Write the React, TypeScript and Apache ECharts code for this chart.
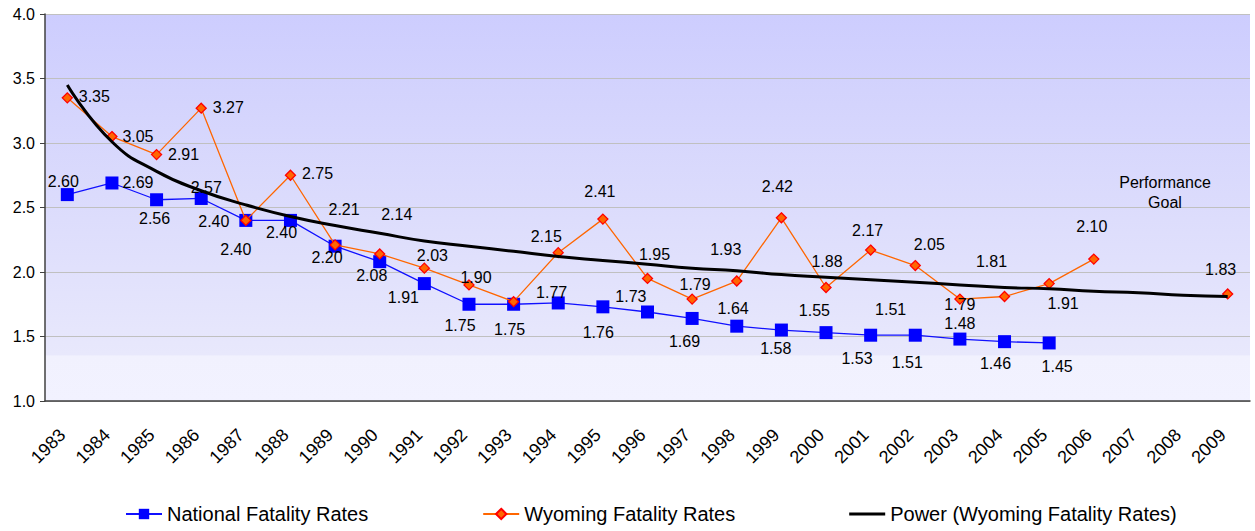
import React, { useEffect, useRef } from "react";
import * as echarts from "echarts";

const years = [
  "1983", "1984", "1985", "1986", "1987", "1988", "1989", "1990", "1991",
  "1992", "1993", "1994", "1995", "1996", "1997", "1998", "1999", "2000",
  "2001", "2002", "2003", "2004", "2005", "2006", "2007", "2008", "2009",
];

const nationalRates: (number | null)[] = [
  2.6, 2.69, 2.56, 2.57, 2.4, 2.4, 2.2, 2.08, 1.91, 1.75, 1.75, 1.76, 1.73,
  1.69, 1.64, 1.58, 1.55, 1.53, 1.51, 1.51, 1.48, 1.46, 1.45, null, null, null, null,
];

const wyomingRates: (number | null)[] = [
  3.35, 3.05, 2.91, 3.27, 2.4, 2.75, 2.21, 2.14, 2.03, 1.9, 1.77, 2.15, 2.41,
  1.95, 1.79, 1.93, 2.42, 1.88, 2.17, 2.05, 1.79, 1.81, 1.91, 2.1, null, null, 1.83,
];

// Power trend line of the Wyoming rates at each year
const powerTrend: number[] = [
  3.45, 3.01, 2.78, 2.63, 2.52, 2.43, 2.36, 2.3, 2.24, 2.2, 2.16, 2.12, 2.09,
  2.06, 2.03, 2.01, 1.98, 1.96, 1.94, 1.92, 1.9, 1.88, 1.87, 1.85, 1.84, 1.82, 1.81,
];

const goalText = "Performance\nGoal";

// label placement (pixel offsets from each marker), kept apart from the data
const natLabelOffsets: number[][] = [
  [-4, -13], [26, 0], [-2, 19], [5, -11], [-32, 1], [-9, 12], [-8, 11], [-8, 14],
  [-21, 14], [-9, 21], [-4, 25], [40, 30], [28, -10], [37, 30], [41, -10], [39, 22],
  [33, -20], [31, 26], [20, -26], [-8, 27], [0, -16], [-9, 22], [8, 24],
];
const wyLabelOffsets: (number[] | null)[] = [
  [27, -1], [26, 0], [27, 0], [27, -1], [-10, 29], [27, -2], [9, -35], [17, -39],
  [8, -13], [7, -7], [38, -9], [-12, -16], [-3, -28], [7, -24], [3, -15], [-11, -32],
  [-4, -31], [1, -26], [-3, -20], [14, -21], [0, 5], [-13, -35], [14, 20], [-2, -33],
  null, null, [-7, -24],
];

const FONT = "'Liberation Sans', Arial, sans-serif";

function withLabels(values: (number | null)[], offsets: (number[] | null)[]) {
  return values.map((v, i) =>
    v == null
      ? "-"
      : { value: v, label: { offset: offsets[i] || [0, 0] } }
  );
}

export default function App() {
  const ref = useRef<HTMLDivElement>(null);

  useEffect(() => {
    document.body.style.margin = "0";
    if (!ref.current) return;
    const chart = echarts.init(ref.current, null, { renderer: "svg" });

    const labelBase = {
      show: true,
      position: "inside",
      color: "#000",
      fontSize: 16,
      fontFamily: FONT,
      formatter: (p: any) => Number(p.value).toFixed(2),
    };

    chart.setOption({
      animation: false,
      textStyle: { fontFamily: FONT },
      grid: {
        left: 45,
        right: 5,
        top: 14,
        bottom: 130,
        show: true,
        borderWidth: 0,
        backgroundColor: new echarts.graphic.LinearGradient(0, 0, 0, 1, [
          { offset: 0, color: "#CDCDFE" },
          { offset: 0.5, color: "#DCDCFC" },
          { offset: 0.88, color: "#E8E8FC" },
          { offset: 0.884, color: "#F1F1FE" },
          { offset: 1, color: "#F2F2FF" },
        ]),
      },
      legend: {
        left: 120,
        top: 499,
        itemWidth: 36,
        itemHeight: 13,
        itemGap: 114,
        textStyle: { fontSize: 20, fontFamily: FONT, color: "#000" },
        data: [
          { name: "National Fatality Rates" },
          { name: "Wyoming Fatality Rates" },
          { name: "Power (Wyoming Fatality Rates)", icon: "path://M0 0 H36 V3 H0 Z" },
        ],
      },
      xAxis: {
        type: "category",
        data: years,
        boundaryGap: true,
        axisLine: { lineStyle: { color: "#404040", width: 1.5 } },
        axisTick: { interval: 0, length: 7, lineStyle: { color: "#404040" } },
        axisLabel: {
          interval: 0,
          rotate: 45,
          margin: 26,
          padding: [0, 7, 0, 0],
          fontSize: 18,
          color: "#000",
          fontFamily: FONT,
        },
        splitLine: { show: false },
      },
      yAxis: {
        type: "value",
        min: 1,
        max: 4,
        interval: 0.5,
        axisLine: { show: true, lineStyle: { color: "#404040", width: 1.5 } },
        axisTick: { show: true, length: 5, lineStyle: { color: "#404040" } },
        axisLabel: {
          fontSize: 16,
          color: "#000",
          margin: 10,
          fontFamily: FONT,
          formatter: (v: number) => v.toFixed(1),
        },
        splitLine: { lineStyle: { color: "#C0C0C0", width: 1 } },
      },
      graphic: [
        {
          type: "text",
          x: 1165,
          y: 172,
          z: 10,
          style: {
            text: goalText,
            fill: "#000",
            font: `16px ${FONT}`,
            align: "center",
            verticalAlign: "top",
            lineHeight: 20,
          },
        },
      ],
      series: [
        {
          name: "National Fatality Rates",
          type: "line",
          z: 2,
          data: withLabels(nationalRates, natLabelOffsets),
          symbol: "rect",
          symbolSize: 13,
          connectNulls: false,
          lineStyle: { color: "#1010FF", width: 1.3 },
          itemStyle: { color: "#0000FF" },
          label: labelBase,
        },
        {
          name: "Wyoming Fatality Rates",
          type: "line",
          z: 3,
          data: withLabels(wyomingRates, wyLabelOffsets),
          symbol: "diamond",
          symbolSize: 10,
          connectNulls: false,
          lineStyle: { color: "#FF6600", width: 1.3 },
          itemStyle: { color: "#FF6600", borderColor: "#FF0000", borderWidth: 1.3 },
          label: labelBase,
        },
        {
          name: "Power (Wyoming Fatality Rates)",
          type: "line",
          z: 4,
          data: powerTrend,
          symbol: "none",
          smooth: true,
          lineStyle: { color: "#000", width: 3 },
          itemStyle: { color: "#000" },
        },
      ],
    });

    return () => chart.dispose();
  }, []);

  return <div ref={ref} style={{ width: 1255, height: 531 }} />;
}
